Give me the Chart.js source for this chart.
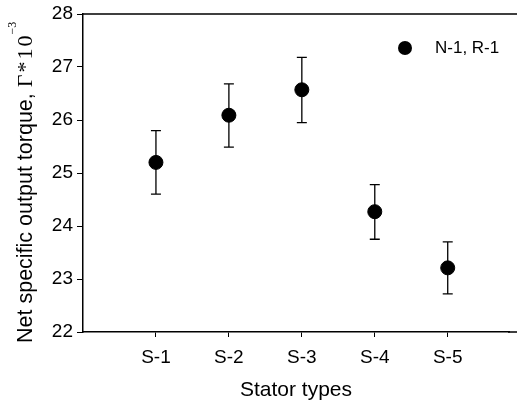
<!DOCTYPE html>
<html><head><meta charset="utf-8">
<script src="https://cdn.jsdelivr.net/npm/chart.js@4"></script>
<style>html,body{margin:0;padding:0;background:#fff;overflow:hidden}#wrap{width:517px;height:407px}</style>
</head><body><div id="wrap"><canvas id="c" width="517" height="407"></canvas></div>
<script>
const categories = ["S-1", "S-2", "S-3", "S-4", "S-5"];
const meanValues = [25.20, 26.09, 26.57, 24.27, 23.21];
const upperValues = [25.80, 26.68, 27.18, 24.78, 23.70];
const lowerValues = [24.60, 25.49, 25.95, 23.75, 22.72];
const yTicks = [22, 23, 24, 25, 26, 27, 28];
const seriesLabel = "N-1, R-1";
const xTitle = "Stator types";
const yTitleMain = "Net specific output torque, ";
const yTitleSym = "\u0393*10";
const yTitleSup = "\u22123";

const FONT = "'Liberation Sans', Arial, sans-serif";
const SERIF = "'Liberation Serif', 'Times New Roman', serif";

const points = categories.map((c, i) => ({x: i + 1, y: meanValues[i]}));

const extras = {
  id: 'extras',
  afterDatasetsDraw(chart) {
    const ctx = chart.ctx, xs = chart.scales.x, ys = chart.scales.y, a = chart.chartArea;
    ctx.save();
    // error bars
    ctx.strokeStyle = '#000'; ctx.lineWidth = 1.3;
    categories.forEach((c, i) => {
      const px = xs.getPixelForValue(i + 1);
      const pu = ys.getPixelForValue(upperValues[i]);
      const pl = ys.getPixelForValue(lowerValues[i]);
      ctx.beginPath();
      ctx.moveTo(px, pu); ctx.lineTo(px, pl);
      ctx.moveTo(px - 5, pu); ctx.lineTo(px + 5, pu);
      ctx.moveTo(px - 5, pl); ctx.lineTo(px + 5, pl);
      ctx.stroke();
    });
    // top frame line and bottom line continued to the edge
    ctx.lineWidth = 1.5;
    ctx.beginPath();
    ctx.moveTo(a.left, a.top); ctx.lineTo(517, a.top);
    ctx.moveTo(a.right - 1, a.bottom); ctx.lineTo(517, a.bottom);
    ctx.stroke();
    // legend
    ctx.fillStyle = '#000';
    ctx.beginPath(); ctx.arc(405, 48, 7, 0, Math.PI * 2); ctx.fill();
    ctx.font = '17px ' + FONT; ctx.textBaseline = 'middle'; ctx.textAlign = 'left';
    ctx.fillText(seriesLabel, 435, 48);
    // y title with superscript
    ctx.translate(25, 343); ctx.rotate(-Math.PI / 2);
    ctx.textBaseline = 'alphabetic';
    ctx.font = '21.5px ' + FONT;
    const w1 = ctx.measureText(yTitleMain).width;
    ctx.fillText(yTitleMain, 0, 7);
    ctx.font = '22px ' + SERIF;
    ctx.letterSpacing = '2px';
    const w2 = ctx.measureText(yTitleSym).width;
    ctx.fillText(yTitleSym, w1, 7);
    ctx.letterSpacing = '0px';
    ctx.font = '12px ' + SERIF;
    ctx.fillText(yTitleSup, w1 + w2 - 1, -9);
    ctx.restore();
  }
};

new Chart(document.getElementById('c'), {
  type: 'scatter',
  data: { datasets: [{ label: seriesLabel, data: points, backgroundColor: '#000', borderColor: '#000', pointRadius: 7, pointHoverRadius: 7 }] },
  options: {
    responsive: false, animation: false,
    layout: { padding: { top: 14, right: 0, left: 0, bottom: 0 } },
    plugins: { legend: { display: false }, tooltip: { enabled: false } },
    scales: {
      x: {
        type: 'linear', min: 0, max: 5.84,
        afterBuildTicks(s) { s.ticks = categories.map((c, i) => ({ value: i + 1 })); },
        afterFit(s) { s.height = 75; s.paddingRight = 0; s.paddingLeft = 0; },
        ticks: { callback: (v) => categories[v - 1] || '', color: '#000', font: { family: FONT, size: 19 }, padding: 9, maxRotation: 0, autoSkip: false },
        grid: { drawOnChartArea: false, drawTicks: true, tickLength: 5, color: '#000', lineWidth: 1 },
        border: { display: true, color: '#000', width: 1.5 },
        title: { display: true, text: xTitle, color: '#000', font: { family: FONT, size: 21 }, padding: { top: 4, bottom: 4 } }
      },
      y: {
        min: 22, max: 28,
        afterBuildTicks(s) { s.ticks = yTicks.map(v => ({ value: v })); },
        afterFit(s) { s.width = 83; s.paddingTop = 0; s.paddingBottom = 0; },
        ticks: { color: '#000', font: { family: FONT, size: 19 }, padding: 4 },
        grid: { drawOnChartArea: false, drawTicks: true, tickLength: 6, color: '#000', lineWidth: 1 },
        border: { display: true, color: '#000', width: 1.5 }
      }
    }
  },
  plugins: [extras]
});
</script></body></html>
